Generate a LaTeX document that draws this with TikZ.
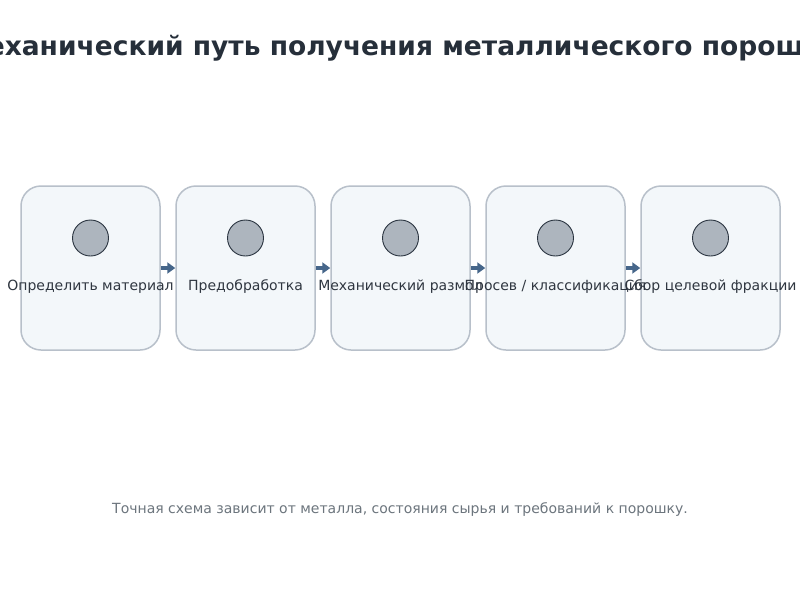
\documentclass[tikz,border=0pt]{standalone}
\usepackage{fontspec}
\setmainfont{DejaVu Sans}
\usetikzlibrary{arrows.meta}
\definecolor{boxfill}{HTML}{F3F7FA}
\definecolor{boxline}{HTML}{B8C0CA}
\definecolor{dotfill}{HTML}{ADB5BE}
\definecolor{dotline}{HTML}{2A3440}
\definecolor{arrowc}{HTML}{46668A}
\definecolor{titlec}{HTML}{262F3A}
\definecolor{textc}{HTML}{2F3640}
\definecolor{footc}{HTML}{6C757D}
\tikzset{
  stepbox/.style={draw=boxline, fill=boxfill, line width=1.5pt, rounded corners=20pt,
    minimum width=139pt, minimum height=164pt, inner sep=0pt},
  dot/.style={circle, draw=dotline, fill=dotfill, line width=0.9pt, minimum size=36pt, inner sep=0pt},
  lbl/.style={font=\fontsize{14}{16}\selectfont, text=textc, anchor=base, inner sep=0pt},
  flow/.style={draw=arrowc, line width=3.5pt, -{Triangle[length=8pt,width=11pt]}, shorten <=0pt, shorten >=0pt}
}
\begin{document}
\begin{tikzpicture}[x=1pt,y=-1pt]
\useasboundingbox (0,0) rectangle (800,600);
\clip (0,0) rectangle (800,600);
\fill[white] (0,0) rectangle (800,600);
\node[font=\fontsize{26.5}{30}\selectfont\bfseries, text=titlec] (title) at (400,48) {Механический путь получения металлического порошка};
\foreach \i/\x in {1/90.5,2/245.5,3/400.5,4/555.5,5/710.5}{
  \node[stepbox] (b\i) at (\x,268) {};
  \node[dot] (d\i) at (\x,238) {};
}
\foreach \i/\j in {1/2,2/3,3/4,4/5}{
  \draw[flow] (b\i.east |- 0,268) -- (b\j.west |- 0,268);
}
\node[lbl] (l1) at (90.5,290.5) {Определить материал};
\node[lbl] (l2) at (245.5,290) {Предобработка};
\node[lbl] (l3) at (400.5,290.5) {Механический размол};
\node[lbl] (l4) at (555.5,290.5) {Просев / классификация};
\node[lbl] (l5) at (710.5,290) {Сбор целевой фракции};
\node[font=\fontsize{14}{16}\selectfont, text=footc] (foot) at (400,510) {Точная схема зависит от металла, состояния сырья и требований к порошку.};
\end{tikzpicture}
\end{document}
